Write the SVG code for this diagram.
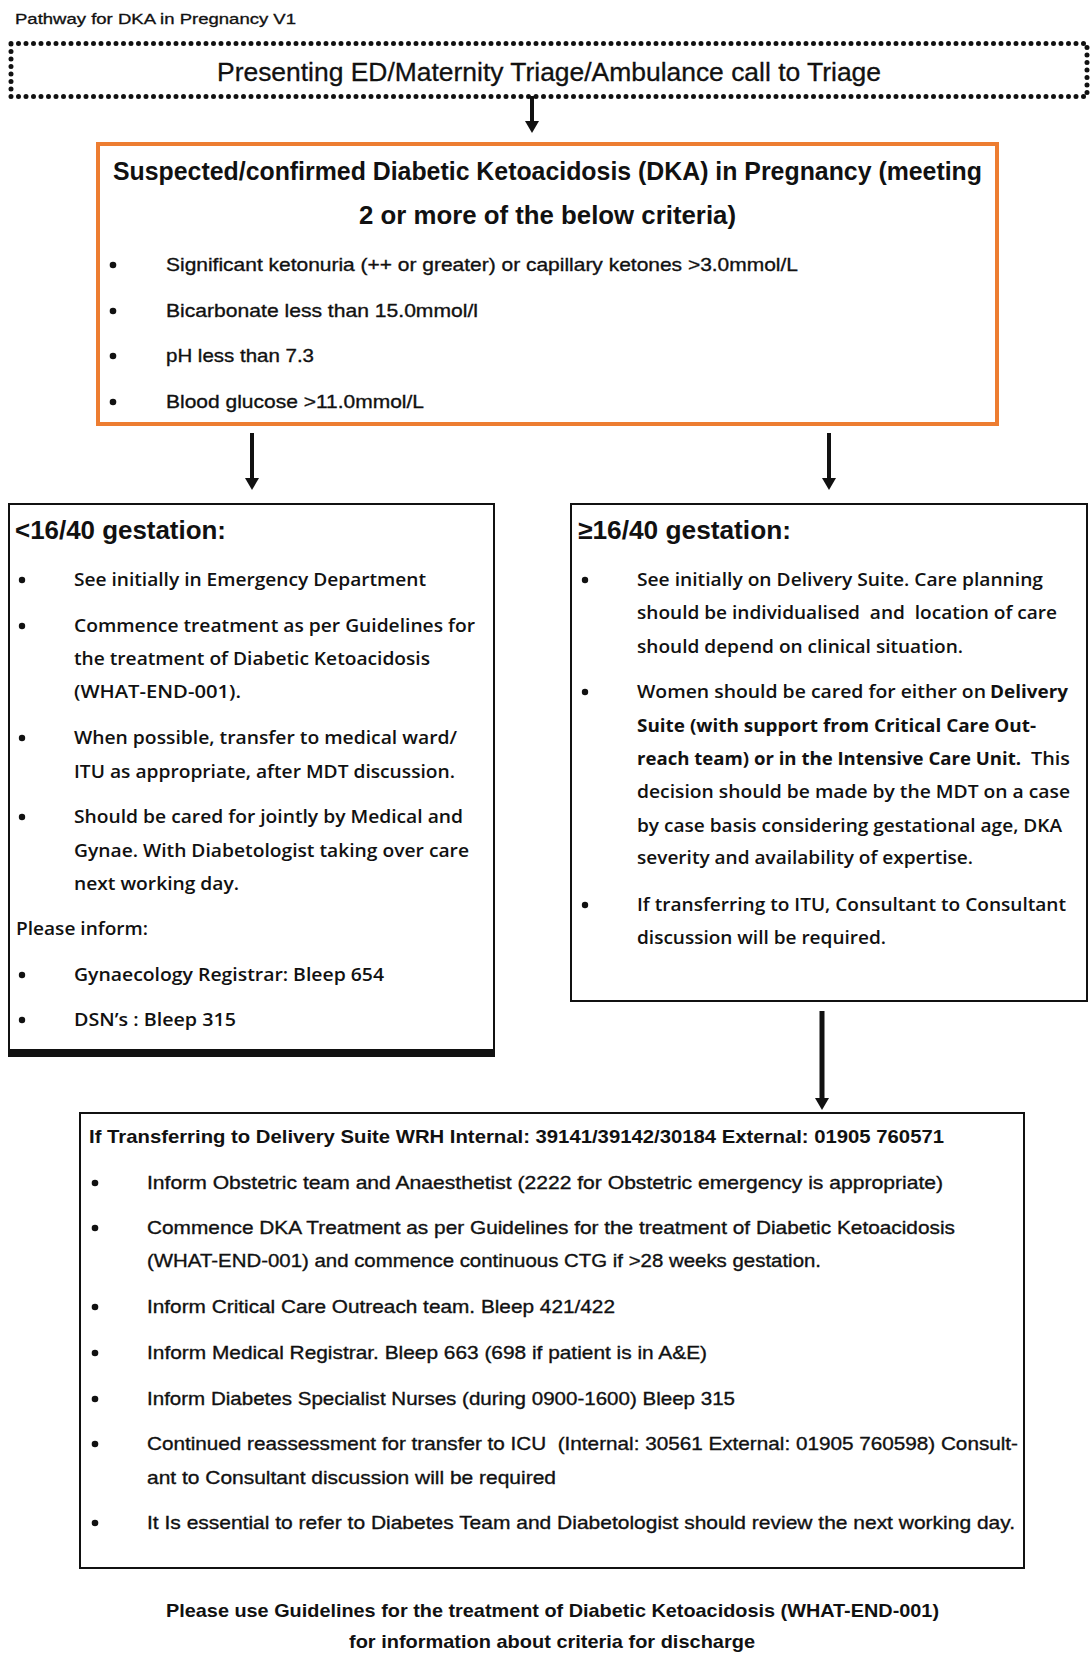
<svg xmlns="http://www.w3.org/2000/svg" width="1092" height="1657" viewBox="0 0 1092 1657">
<style>
  text { font-family: "Liberation Sans", Arial, sans-serif; fill: #111; }
  .t { font-size: 14px; stroke: #111; stroke-width: 0.3; }
  .pres { font-size: 25px; stroke: #111; stroke-width: 0.3; }
  .ot { font-size: 26px; font-weight: bold; }
  .ob { font-size: 19px; stroke: #111; stroke-width: 0.35; }
  .sh { font-size: 26px; font-weight: bold; }
  .sb { font-family: "Open Sans", "Liberation Sans", sans-serif; font-size: 18px; font-weight: 600; }
  .sbb { font-family: "Open Sans", "Liberation Sans", sans-serif; font-size: 18px; font-weight: 700; }
  .bb { font-size: 19px; stroke: #111; stroke-width: 0.35; }
  .bh { font-size: 19px; font-weight: bold; }
  .ft { font-size: 19px; font-weight: bold; }
  .box { fill: #fff; stroke: #111; stroke-width: 2; }
  .dot { fill: #111; }
  .conn { stroke: #111; stroke-width: 4; fill: none; marker-end: url(#ah); }
</style>
<defs>
  <marker id="ah" viewBox="0 0 12 14" refX="4" refY="7" markerWidth="12" markerHeight="14" orient="auto" markerUnits="userSpaceOnUse">
    <path d="M0,0 L12,7 L0,14 z" fill="#111"/>
  </marker>
</defs>
<rect width="1092" height="1657" fill="#fff"/>

<g id="title">
  <text class="t" x="15" y="24" textLength="281" lengthAdjust="spacingAndGlyphs">Pathway for DKA in Pregnancy V1</text>
</g>

<g id="presenting">
  <rect x="11" y="43.5" width="1076" height="53" fill="#fff" stroke="#111" stroke-width="5" stroke-dasharray="0 7.5" stroke-linecap="round"/>
  <text class="pres" x="217" y="81" textLength="664" lengthAdjust="spacingAndGlyphs">Presenting ED/Maternity Triage/Ambulance call to Triage</text>
</g>

<g id="criteria">
  <rect x="98" y="144" width="899" height="280" fill="#fff" stroke="#ED7D31" stroke-width="4"/>
  <text class="ot" x="113" y="180" textLength="869" lengthAdjust="spacingAndGlyphs">Suspected/confirmed Diabetic Ketoacidosis (DKA) in Pregnancy (meeting</text>
  <text class="ot" x="359" y="224" textLength="377" lengthAdjust="spacingAndGlyphs">2 or more of the below criteria)</text>
  <circle class="dot" cx="113" cy="265" r="3.3"/>
  <circle class="dot" cx="113" cy="311" r="3.3"/>
  <circle class="dot" cx="113" cy="356" r="3.3"/>
  <circle class="dot" cx="113" cy="402" r="3.3"/>
  <text class="ob" x="166" y="271" textLength="632" lengthAdjust="spacingAndGlyphs">Significant ketonuria (++ or greater) or capillary ketones &gt;3.0mmol/L</text>
  <text class="ob" x="166" y="317" textLength="312" lengthAdjust="spacingAndGlyphs">Bicarbonate less than 15.0mmol/l</text>
  <text class="ob" x="166" y="362" textLength="148" lengthAdjust="spacingAndGlyphs">pH less than 7.3</text>
  <text class="ob" x="166" y="408" textLength="258" lengthAdjust="spacingAndGlyphs">Blood glucose &gt;11.0mmol/L</text>
</g>

<g id="under16">
  <rect class="box" x="9" y="504" width="485" height="549"/>
  <rect x="8" y="1049" width="487" height="8" fill="#111"/>
  <text class="sh" x="15" y="539" textLength="211" lengthAdjust="spacingAndGlyphs">&lt;16/40 gestation:</text>
  <circle class="dot" cx="22" cy="580" r="3.2"/>
  <circle class="dot" cx="22" cy="626" r="3.2"/>
  <circle class="dot" cx="22" cy="738" r="3.2"/>
  <circle class="dot" cx="22" cy="817" r="3.2"/>
  <circle class="dot" cx="22" cy="975" r="3.2"/>
  <circle class="dot" cx="22" cy="1020" r="3.2"/>
  <text class="sb" x="74" y="586" textLength="352" lengthAdjust="spacingAndGlyphs">See initially in Emergency Department</text>
  <text class="sb" x="74" y="632" textLength="401" lengthAdjust="spacingAndGlyphs">Commence treatment as per Guidelines for</text>
  <text class="sb" x="74" y="665" textLength="356" lengthAdjust="spacingAndGlyphs">the treatment of Diabetic Ketoacidosis</text>
  <text class="sb" x="74" y="698" textLength="167" lengthAdjust="spacingAndGlyphs">(WHAT-END-001).</text>
  <text class="sb" x="74" y="744" textLength="383" lengthAdjust="spacingAndGlyphs">When possible, transfer to medical ward/</text>
  <text class="sb" x="74" y="778" textLength="381" lengthAdjust="spacingAndGlyphs">ITU as appropriate, after MDT discussion.</text>
  <text class="sb" x="74" y="823" textLength="389" lengthAdjust="spacingAndGlyphs">Should be cared for jointly by Medical and</text>
  <text class="sb" x="74" y="857" textLength="395" lengthAdjust="spacingAndGlyphs">Gynae. With Diabetologist taking over care</text>
  <text class="sb" x="74" y="890" textLength="165" lengthAdjust="spacingAndGlyphs">next working day.</text>
  <text class="sb" x="16" y="935" textLength="132" lengthAdjust="spacingAndGlyphs">Please inform:</text>
  <text class="sb" x="74" y="981" textLength="310" lengthAdjust="spacingAndGlyphs">Gynaecology Registrar: Bleep 654</text>
  <text class="sb" x="74" y="1026" textLength="162" lengthAdjust="spacingAndGlyphs">DSN’s : Bleep 315</text>
</g>

<g id="over16">
  <rect class="box" x="571" y="504" width="516" height="497"/>
  <text class="sh" x="578" y="539" textLength="213" lengthAdjust="spacingAndGlyphs">≥16/40 gestation:</text>
  <circle class="dot" cx="585" cy="580" r="3.2"/>
  <circle class="dot" cx="585" cy="692" r="3.2"/>
  <circle class="dot" cx="585" cy="905" r="3.2"/>
  <text class="sb" x="637" y="586" textLength="406" lengthAdjust="spacingAndGlyphs">See initially on Delivery Suite. Care planning</text>
  <text class="sb" x="637" y="619" textLength="420" lengthAdjust="spacingAndGlyphs" xml:space="preserve">should be individualised  and  location of care</text>
  <text class="sb" x="637" y="653" textLength="326" lengthAdjust="spacingAndGlyphs">should depend on clinical situation.</text>
  <text class="sb" x="637" y="698" textLength="349" lengthAdjust="spacingAndGlyphs">Women should be cared for either on</text>
  <text class="sbb" x="990" y="698" textLength="78" lengthAdjust="spacingAndGlyphs">Delivery</text>
  <text class="sbb" x="637" y="732" textLength="399" lengthAdjust="spacingAndGlyphs">Suite (with support from Critical Care Out-</text>
  <text class="sbb" x="637" y="765" textLength="384" lengthAdjust="spacingAndGlyphs">reach team) or in the Intensive Care Unit.</text>
  <text class="sb" x="1031" y="765" textLength="39" lengthAdjust="spacingAndGlyphs">This</text>
  <text class="sb" x="637" y="798" textLength="433" lengthAdjust="spacingAndGlyphs">decision should be made by the MDT on a case</text>
  <text class="sb" x="637" y="832" textLength="425" lengthAdjust="spacingAndGlyphs">by case basis considering gestational age, DKA</text>
  <text class="sb" x="637" y="864" textLength="336" lengthAdjust="spacingAndGlyphs">severity and availability of expertise.</text>
  <text class="sb" x="637" y="911" textLength="429" lengthAdjust="spacingAndGlyphs">If transferring to ITU, Consultant to Consultant</text>
  <text class="sb" x="637" y="944" textLength="249" lengthAdjust="spacingAndGlyphs">discussion will be required.</text>
</g>

<g id="transfer">
  <rect class="box" x="80" y="1113" width="944" height="455"/>
  <text class="bh" x="89" y="1143" textLength="855" lengthAdjust="spacingAndGlyphs">If Transferring to Delivery Suite WRH Internal: 39141/39142/30184 External: 01905 760571</text>
  <circle class="dot" cx="95" cy="1183" r="3.3"/>
  <circle class="dot" cx="95" cy="1228" r="3.3"/>
  <circle class="dot" cx="95" cy="1307" r="3.3"/>
  <circle class="dot" cx="95" cy="1353" r="3.3"/>
  <circle class="dot" cx="95" cy="1399" r="3.3"/>
  <circle class="dot" cx="95" cy="1444" r="3.3"/>
  <circle class="dot" cx="95" cy="1523" r="3.3"/>
  <text class="bb" x="147" y="1189" textLength="796" lengthAdjust="spacingAndGlyphs">Inform Obstetric team and Anaesthetist (2222 for Obstetric emergency is appropriate)</text>
  <text class="bb" x="147" y="1234" textLength="808" lengthAdjust="spacingAndGlyphs">Commence DKA Treatment as per Guidelines for the treatment of Diabetic Ketoacidosis</text>
  <text class="bb" x="147" y="1267" textLength="674" lengthAdjust="spacingAndGlyphs">(WHAT-END-001) and commence continuous CTG if &gt;28 weeks gestation.</text>
  <text class="bb" x="147" y="1313" textLength="468" lengthAdjust="spacingAndGlyphs">Inform Critical Care Outreach team. Bleep 421/422</text>
  <text class="bb" x="147" y="1359" textLength="560" lengthAdjust="spacingAndGlyphs">Inform Medical Registrar. Bleep 663 (698 if patient is in A&amp;E)</text>
  <text class="bb" x="147" y="1405" textLength="588" lengthAdjust="spacingAndGlyphs">Inform Diabetes Specialist Nurses (during 0900-1600) Bleep 315</text>
  <text class="bb" x="147" y="1450" textLength="871" lengthAdjust="spacingAndGlyphs" xml:space="preserve">Continued reassessment for transfer to ICU  (Internal: 30561 External: 01905 760598) Consult-</text>
  <text class="bb" x="147" y="1484" textLength="409" lengthAdjust="spacingAndGlyphs">ant to Consultant discussion will be required</text>
  <text class="bb" x="147" y="1529" textLength="868" lengthAdjust="spacingAndGlyphs">It Is essential to refer to Diabetes Team and Diabetologist should review the next working day.</text>
</g>

<g id="footer">
  <text class="ft" x="166" y="1617" textLength="773" lengthAdjust="spacingAndGlyphs">Please use Guidelines for the treatment of Diabetic Ketoacidosis (WHAT-END-001)</text>
  <text class="ft" x="349" y="1648" textLength="406" lengthAdjust="spacingAndGlyphs">for information about criteria for discharge</text>
</g>

<g id="connectors">
  <line class="conn" x1="532" y1="96" x2="532" y2="125"/>
  <line class="conn" x1="252" y1="433" x2="252" y2="482"/>
  <line class="conn" x1="829" y1="433" x2="829" y2="482"/>
  <line class="conn" x1="822" y1="1011" x2="822" y2="1102" style="stroke-width:5"/>
</g>
</svg>
